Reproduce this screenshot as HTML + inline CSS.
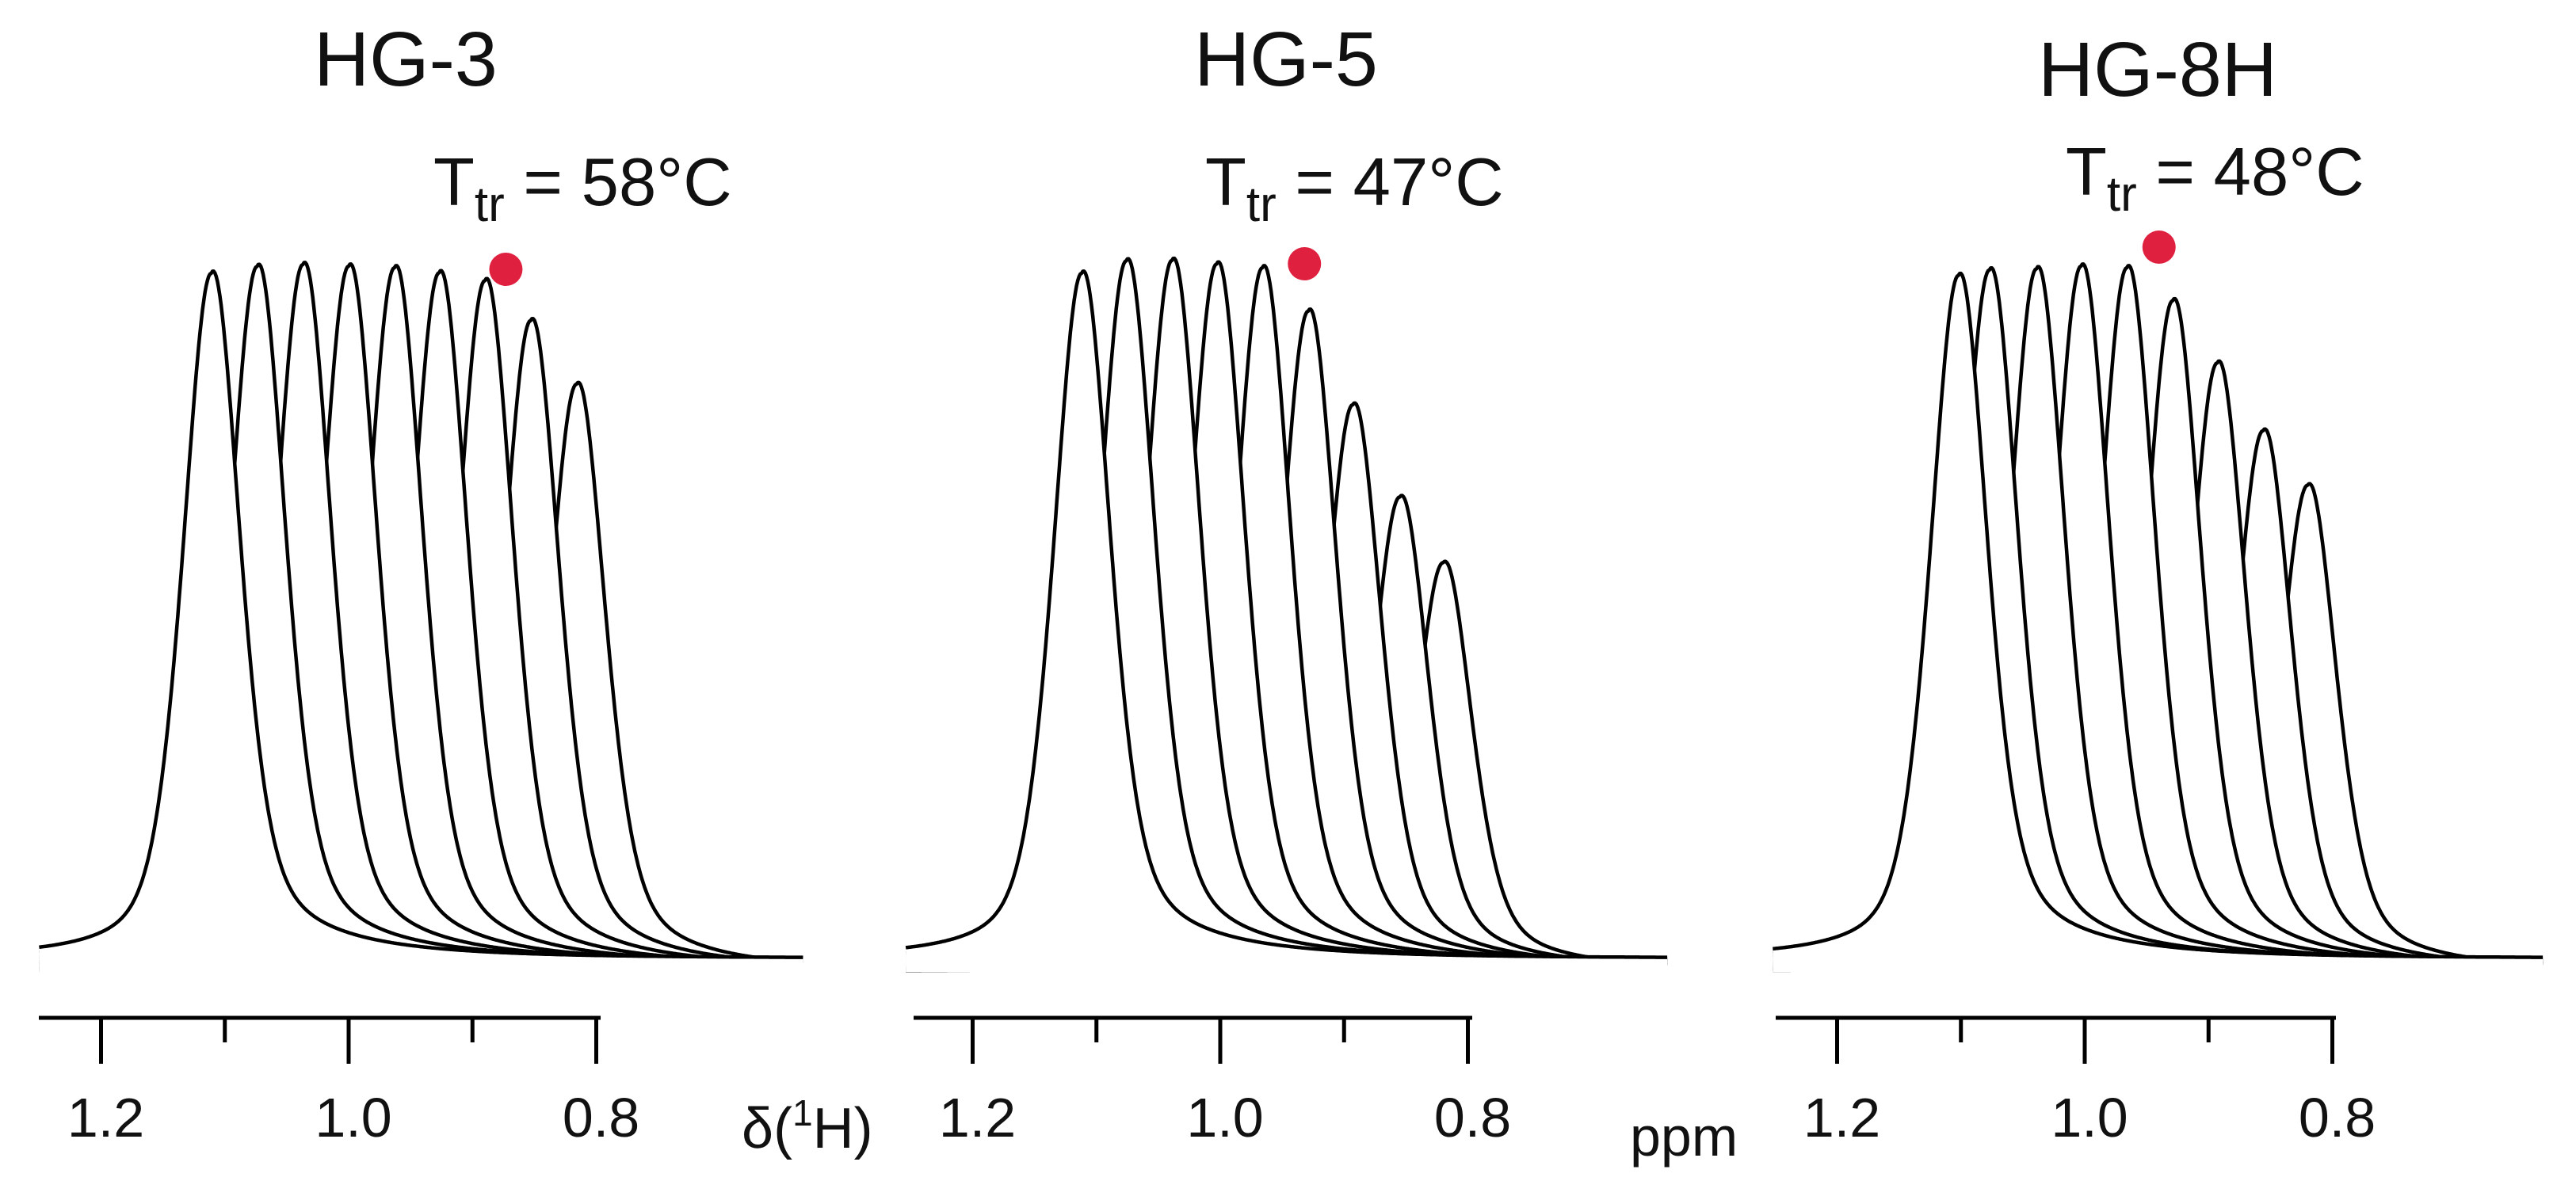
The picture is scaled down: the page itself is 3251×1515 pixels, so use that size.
<!DOCTYPE html>
<html><head><meta charset="utf-8"><style>
html,body{margin:0;padding:0;background:#fff;}
svg{display:block;}
text{font-family:"Liberation Sans",sans-serif;fill:#111;}
</style></head><body>
<svg id="chart" width="3251" height="1515" viewBox="0 0 3251 1515" xmlns="http://www.w3.org/2000/svg"></svg>
<script>
const panelTitles = ["HG-3", "HG-5", "HG-8H"];
const panelTtr = ["58", "47", "48"];
const tickValues = [1.2, 1.0, 0.8];
const tickLabels = ["1.2", "1.0", "0.8"];
const minorTicks = [1.1, 0.9];
const peakPpm1 = [1.111, 1.074, 1.037, 1.000, 0.963, 0.927, 0.890, 0.853, 0.816];
const peakHeight1 = [0.983, 0.995, 1.0, 1.0, 1.0, 0.995, 0.986, 0.931, 0.842];
const peakPpm2 = [1.112, 1.076, 1.039, 1.003, 0.966, 0.929, 0.893, 0.855, 0.820];
const peakHeight2 = [0.983, 1.003, 1.006, 1.003, 1.0, 0.94, 0.808, 0.678, 0.586];
const peakPpm3 = [1.102, 1.077, 1.039, 1.003, 0.966, 0.929, 0.893, 0.856, 0.820];
const peakHeight3 = [0.98, 0.99, 0.994, 1.0, 1.0, 0.955, 0.868, 0.773, 0.697];
const transitionPpm = [0.873, 0.932, 0.940];

const NS = "http://www.w3.org/2000/svg";
const svg = document.getElementById("chart");
function mk(tag, attrs, parent) {
  const e = document.createElementNS(NS, tag);
  for (const k in attrs) e.setAttribute(k, attrs[k]);
  (parent || svg).appendChild(e);
  return e;
}
const panels = [
  {x10: 440, axL: 49, axR: 756, specL: 1.25, specR: 0.633, tx: 512, ty: 108, ttrX: 547, ttrY: 259, dotY: 340, ppm: peakPpm1, h: peakHeight1},
  {x10: 1540, axL: 1153, axR: 1856, specL: 1.254, specR: 0.639, tx: 1623, ty: 108, ttrX: 1521, ttrY: 259, dotY: 333, ppm: peakPpm2, h: peakHeight2},
  {x10: 2631, axL: 2241, axR: 2946, specL: 1.252, specR: 0.630, tx: 2723, ty: 121, ttrX: 2607, ttrY: 246, dotY: 312, ppm: peakPpm3, h: peakHeight3}
];
const PXPPM = 1562.5, BASE = 1210, FULL = 880, AXY = 1285;
const HW = 0.027;
function shape(d) {
  const g = Math.exp(-Math.LN2 * (d / HW) * (d / HW));
  const l = 1 / (1 + (d / HW) * (d / HW));
  return 0.55 * g + 0.45 * l;
}
panels.forEach((p, pi) => {
  const g = mk("g", {});
  
  
  const X = v => p.x10 + (1.0 - v) * PXPPM;
  const t = mk("text", {x: p.tx, y: p.ty, "font-size": 97, "text-anchor": "middle"}, g);
  t.textContent = panelTitles[pi];
  
  
  const tt = mk("text", {x: p.ttrX, y: p.ttrY, "font-size": 85}, g);
  
  
  tt.innerHTML = 'T<tspan font-size="62" dy="20">tr</tspan><tspan dy="-20"> = ' + panelTtr[pi] + '°C</tspan>';
  for (let i = p.ppm.length - 1; i >= 0; i--) {
    const base = BASE + i * 2;
    let pts = [];
    for (let v = p.specL; v >= p.specR; v -= 0.001) {
      const d = v - p.ppm[i];
      let s = shape(d);
      if (d < 0) s += 0.05 * Math.exp(d / 0.08) * (1 - Math.exp(d / 0.012));
      pts.push([X(v), base - p.h[i] * FULL * s]);
    }
    const line = pts.map((q, k) => (k ? "L" : "M") + q[0].toFixed(1) + "," + q[1].toFixed(1)).join("");
    const fill = mk("path", {d: line + "L" + pts[pts.length - 1][0].toFixed(1) + "," + (base + 3) + "L" + pts[0][0].toFixed(1) + "," + (base + 3) + "Z", fill: "#fff", stroke: "none"}, g);
    
    
    const sp = mk("path", {d: line, fill: "none", stroke: "#000", "stroke-width": 4.5, "stroke-linejoin": "round"}, g);
    
    
  }
  const dot = mk("ellipse", {cx: X(transitionPpm[pi]), cy: p.dotY, rx: 21, ry: 21, fill: "#e0203f"}, g);
  
  
  const ax = mk("line", {x1: p.axL, x2: p.axR + 2, y1: AXY, y2: AXY, stroke: "#000", "stroke-width": 5}, g);
  
  
  tickValues.forEach((v, k) => {
    const tk = mk("line", {x1: X(v), x2: X(v), y1: AXY, y2: 1343, stroke: "#000", "stroke-width": 5}, g);
    
    
    const tl = mk("text", {x: X(v) + 6, y: 1435, "font-size": 70, "text-anchor": "middle"}, g);
    tl.textContent = tickLabels[k];
    
    
  });
  minorTicks.forEach(v => {
    const tk = mk("line", {x1: X(v), x2: X(v), y1: AXY, y2: 1316, stroke: "#000", "stroke-width": 5}, g);
    
    
  });
});
const d1 = mk("text", {x: 936, y: 1449, "font-size": 72});
d1.innerHTML = 'δ(<tspan font-size="46" dy="-28">1</tspan><tspan dy="28">H)</tspan>';


const pp = mk("text", {x: 2057, y: 1459, "font-size": 70});
pp.textContent = "ppm";


</script>
</body></html>
